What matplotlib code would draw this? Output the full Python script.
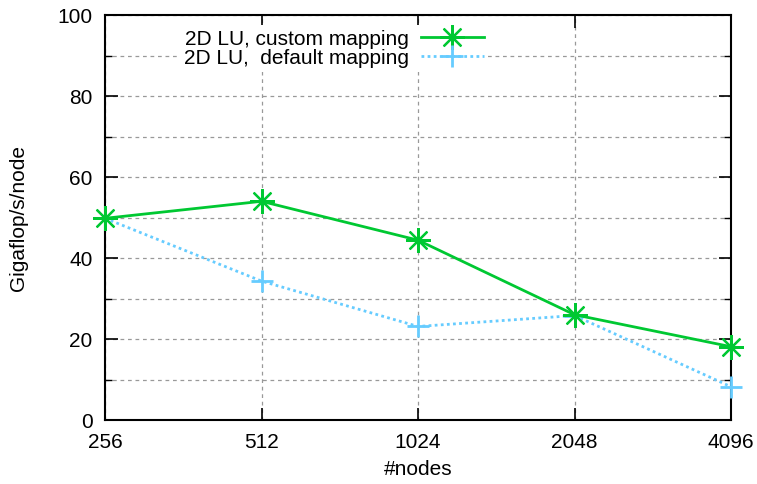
import matplotlib
matplotlib.use('Agg')
import matplotlib.pyplot as plt
from matplotlib.ticker import MultipleLocator

plt.rcParams['font.family'] = ['Liberation Sans', 'DejaVu Sans']

nodes = ['256', '512', '1024', '2048', '4096']
custom = [49.8, 54.0, 44.4, 26.0, 18.1]
default = [49.8, 34.3, 23.1, 25.8, 8.2]

green = '#00c832'
blue = '#66ccff'

fig = plt.figure(figsize=(7.57, 4.84), dpi=100)
ax = fig.add_axes([0.1387, 0.1322, 0.8270, 0.8368])

xs = list(range(len(nodes)))
ax.plot(xs, custom, color=green, lw=2, marker=(8, 2, 0), ms=18, mew=1.6,
        label='2D LU, custom mapping', zorder=4, clip_on=False)
ax.plot(xs, default, color=blue, lw=2, ls=(0, (1, 1.2)), marker='+', ms=16, mew=2,
        label='2D LU,  default mapping', zorder=3, clip_on=False)

ax.set_xlim(0, len(nodes) - 1)
ax.set_ylim(0, 100)
ax.set_xticks(xs)
ax.set_xticklabels(nodes)
ax.yaxis.set_major_locator(MultipleLocator(20))
ax.yaxis.set_minor_locator(MultipleLocator(10))

ax.grid(True, which='both', color='#999999', ls=(0, (3, 3)), lw=0.9)
ax.set_axisbelow(True)
ax.tick_params(which='major', direction='in', length=9, width=1.2, top=True, right=True,
               labelsize=15)
ax.tick_params(axis='x', pad=9)
ax.tick_params(axis='y', pad=9)
ax.tick_params(which='minor', direction='in', length=5, width=1, top=True, right=True)
for s in ax.spines.values():
    s.set_linewidth(1.5)

ax.set_xlabel('#nodes', fontsize=15, labelpad=6)
ax.set_ylabel('Gigaflop/s/node', fontsize=15, labelpad=21)

leg = ax.legend(loc='upper right', bbox_to_anchor=(0.628, 1.0), frameon=True, fontsize=15,
                markerfirst=False, handlelength=3.0, handletextpad=0.6, labelspacing=0.0,
                borderpad=0.2, fancybox=False)
leg.get_frame().set_edgecolor('none')
leg.get_frame().set_facecolor('white')
leg.get_frame().set_alpha(1)
for t in leg.get_texts():
    t.set_ha('right')

fig.savefig('out.png', dpi=100)
